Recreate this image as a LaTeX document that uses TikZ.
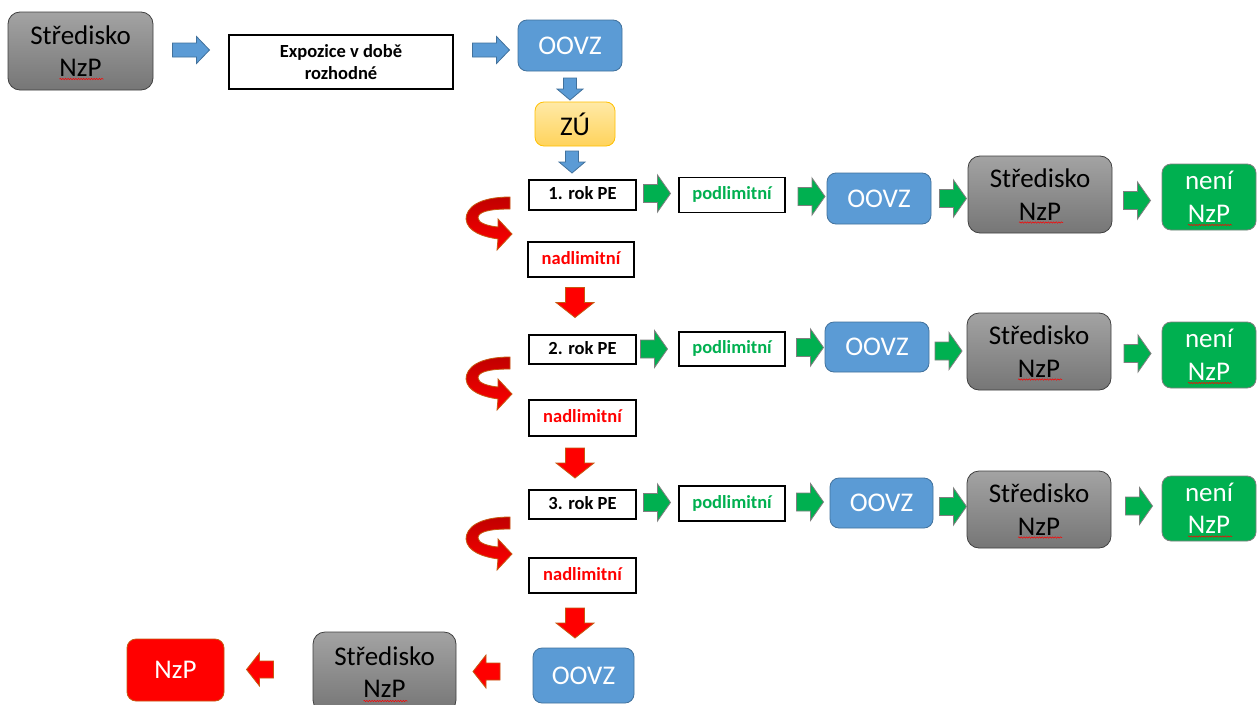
\documentclass[tikz,border=0pt]{standalone}
\usepackage{fontspec}
\setmainfont{Carlito}
\usetikzlibrary{decorations.pathmorphing,calc}
\definecolor{oblue}{HTML}{5B9BD5}
\definecolor{bluebd}{HTML}{41719C}
\definecolor{ogreen}{HTML}{00B050}
\definecolor{greenbd}{HTML}{7F7F7F}
\definecolor{ored}{HTML}{FF0000}
\definecolor{redbd}{HTML}{C55A11}
\definecolor{udark}{HTML}{C00000}
\definecolor{graytop}{HTML}{A3A3A3}
\definecolor{graybot}{HTML}{767676}
\definecolor{graybd}{HTML}{404040}
\definecolor{zutop}{HTML}{FFE9A6}
\definecolor{zubot}{HTML}{FFD35C}
\definecolor{zubd}{HTML}{FFC000}
\tikzset{
  base/.style={inner sep=0pt, outer sep=0pt, align=center},
  big/.style={font=\fontsize{27}{32.5}\selectfont},
  wh/.style n args={2}{minimum width=#1pt, minimum height=#2pt},
  graybox/.style={base, big, rounded corners=12pt, draw=graybd, line width=0.8pt, top color=graytop, bottom color=graybot, text=black},
  bluebox/.style={base, big, rounded corners=9pt, draw=bluebd, line width=0.8pt, fill=oblue, text=white},
  greenbox/.style={base, big, rounded corners=9pt, draw=greenbd, line width=0.8pt, fill=ogreen, text=white},
  redbox/.style={base, big, rounded corners=9pt, draw=redbd, line width=0.8pt, fill=ored, text=white},
  zubox/.style={base, big, rounded corners=9pt, draw=zubd, line width=0.8pt, top color=zutop, bottom color=zubot, text=black},
  plainbox/.style={base, draw=black, line width=1.6pt, fill=white, font=\bfseries\fontsize{18.5}{22.5}\selectfont},
  label/.style={plainbox, text height=13pt, text depth=4pt},
  podl/.style={label, text=ogreen},
  nadl/.style={label, text=ored},
  wavy/.style={draw=red, line width=0.5pt, decorate, decoration={snake, amplitude=0.7pt, segment length=2.6pt}},
  arrlen/.store in=\arrlen, arrwid/.store in=\arrwid, arrshaft/.store in=\arrshaft, arrhead/.store in=\arrhead,
  arrfill/.store in=\arrfill, arrdraw/.store in=\arrdraw,
  arrlen=28, arrwid=37, arrshaft=18, arrhead=13, arrfill=ogreen, arrdraw=greenbd,
  barrow/.pic={
    \path[fill=\arrfill, draw=\arrdraw, line width=0.8pt, line join=miter]
      ({-\arrlen/2},{-\arrshaft/2}) -- ({\arrlen/2-\arrhead},{-\arrshaft/2}) -- ({\arrlen/2-\arrhead},{-\arrwid/2})
      -- ({\arrlen/2},0) -- ({\arrlen/2-\arrhead},{\arrwid/2}) -- ({\arrlen/2-\arrhead},{\arrshaft/2})
      -- ({-\arrlen/2},{\arrshaft/2}) -- cycle;
  },
  uturn/.pic={
    \path[top color=udark, bottom color=ored, draw=redbd, line width=0.8pt, line join=miter]
      (44,2) .. controls (12,2) and (0,13) .. (0,24) .. controls (1,37) and (18,42) .. (32,44)
      -- (31,55) -- (46,39) -- (32,24) -- (32,32)
      .. controls (22,31) and (12,28) .. (12,23) .. controls (12,17) and (22,14) .. (44,14) -- cycle;
  },
  blueR/.style={arrlen=37, arrwid=27, arrshaft=14, arrhead=13, arrfill=oblue, arrdraw=bluebd},
  blueD/.style={arrlen=22, arrwid=26, arrshaft=13, arrhead=11, arrfill=oblue, arrdraw=bluebd, rotate=-90},
  greenR/.style={arrlen=27, arrwid=37, arrshaft=18, arrhead=13, arrfill=ogreen, arrdraw=greenbd},
  redD/.style={arrlen=30, arrwid=38, arrshaft=19, arrhead=15, arrfill=ored, arrdraw=redbd, rotate=-90},
  redL/.style={arrlen=27, arrwid=33, arrshaft=17, arrhead=13, arrfill=ored, arrdraw=redbd, rotate=180},
}
\begin{document}
\begin{tikzpicture}[x=1pt,y=-1pt]
\useasboundingbox (0,0) rectangle (1257,704);
\clip (0,0) rectangle (1257,704);
\fill[white] (0,0) rectangle (1257,704);

% top row
\node[graybox, wh={145}{78}] (s1) at (80.5,51) {Středisko\\NzP};
\node[plainbox, wh={224}{54}] (expo) at (341,62) {Expozice v době\\rozhodné};
\node[bluebox, wh={104}{51}] (o1) at (570,45.5) {OOVZ};
\node[zubox, wh={80}{44}] (zu) at (575,124) {ZÚ};

% row 1
\node[label, wh={107}{30}] (r1) at (582.5,195) {1. rok PE};
\node[podl, wh={106}{35}] (p1) at (732,195) {podlimitní};
\node[bluebox, wh={104}{51}] (o2) at (879,198.5) {OOVZ};
\node[graybox, wh={144}{77}] (s2) at (1040,194.5) {Středisko\\NzP};
\node[greenbox, wh={94}{66}] (n1) at (1209,197) {není\\NzP};
\node[nadl, wh={106}{35}] (d1) at (581,259.5) {nadlimitní};

% row 2
\node[label, wh={107}{29}] (r2) at (582.5,349.5) {2. rok PE};
\node[podl, wh={106}{34}] (p2) at (732,349) {podlimitní};
\node[bluebox, wh={104}{50}] (o3) at (877,347) {OOVZ};
\node[graybox, wh={144}{77}] (s3) at (1039,351.5) {Středisko\\NzP};
\node[greenbox, wh={94}{66}] (n2) at (1209,355) {není\\NzP};
\node[nadl, wh={107}{36}] (d2) at (582.5,418) {nadlimitní};

% row 3
\node[label, wh={107}{29}] (r3) at (582.5,504.5) {3. rok PE};
\node[podl, wh={106}{35}] (p3) at (732,503.5) {podlimitní};
\node[bluebox, wh={103}{50}] (o4) at (881.5,503) {OOVZ};
\node[graybox, wh={144}{77}] (s4) at (1039,509.5) {Středisko\\NzP};
\node[greenbox, wh={94}{65}] (n3) at (1209,508.5) {není\\NzP};
\node[nadl, wh={107}{35}] (d3) at (582.5,575.5) {nadlimitní};

% bottom row
\node[bluebox, wh={101}{55}] (o5) at (583.5,675.5) {OOVZ};
\node[graybox, wh={143}{80}] (s5) at (384.5,672) {Středisko\\NzP};
\node[redbox, wh={97}{62}] (nz) at (175.5,670) {NzP};

% spell-check underlines
\foreach \n/\dy in {s1/28, s2/28, s3/28, s4/28, s5/29, n1/28, n2/28, n3/28, nz/13}
  \draw[wavy] ($(\n.center)+(-21,\dy)$) -- ($(\n.center)+(23,\dy)$);

% block arrows
\path (191,50) pic[blueR] {barrow};
\path (491,50) pic[blueR] {barrow};
\path (570,89) pic[blueD] {barrow};
\path (572,162) pic[blueD] {barrow};

\path (657,193.5) pic[greenR] {barrow};
\path (811.5,196.5) pic[greenR] {barrow};
\path (953,198.5) pic[greenR] {barrow};
\path (1137,200.5) pic[greenR] {barrow};

\path (654,349) pic[greenR] {barrow};
\path (810,347.5) pic[greenR] {barrow};
\path (948.5,351) pic[greenR] {barrow};
\path (1137.5,353.5) pic[greenR] {barrow};

\path (657,502.5) pic[greenR] {barrow};
\path (810,502) pic[greenR] {barrow};
\path (953,506.5) pic[greenR] {barrow};
\path (1139,506) pic[greenR] {barrow};

\path (575,302.5) pic[redD] {barrow};
\path (575,463) pic[redD] {barrow};
\path (575,623) pic[redD] {barrow};

\path (486.5,671.5) pic[redL] {barrow};
\path (260,669.5) pic[redL] {barrow};

\path (466,195) pic {uturn};
\path (466,355) pic {uturn};
\path (466,515) pic {uturn};
\end{tikzpicture}
\end{document}
